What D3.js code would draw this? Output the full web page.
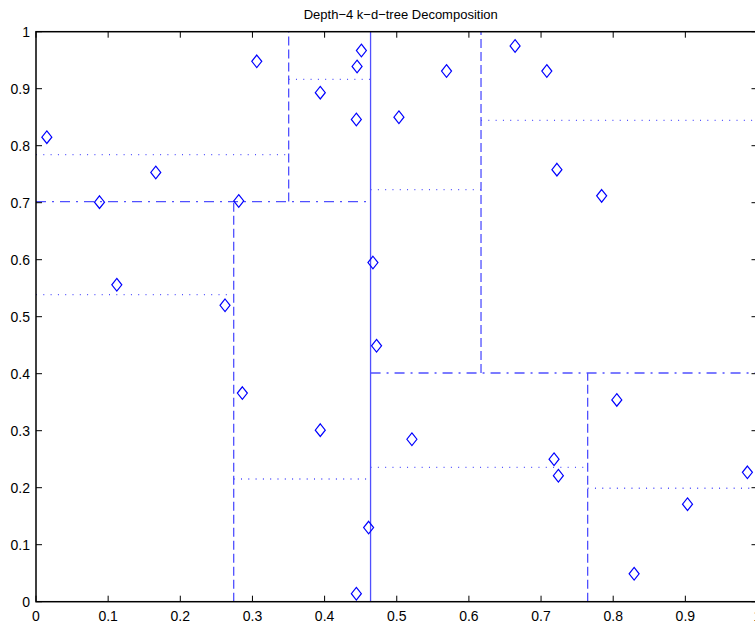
<html>
<head>
	<style>
		body { margin: 0; background: #fff; }
		svg { position: absolute; top: 0px; left: 0px; font-family: "Liberation Sans", Arial, sans-serif; }
		.axis-line { stroke: #000; stroke-width: 1.5px; fill: none; }
		.tick-mark { stroke: #000; stroke-width: 1px; }
		.tick-label { font-size: 14px; fill: #000; }
		.title { font-size: 13px; fill: #000; }
		.split { fill: none; stroke: #5050ff; stroke-width: 1.3px; }
		.pt { fill: none; stroke: #0000ff; stroke-width: 1.2px; }
	</style>
	<script src="https://cdnjs.cloudflare.com/ajax/libs/d3/7.8.5/d3.min.js"></script>
</head>
<body>
	<svg width="755" height="623"></svg>
</body>
<script>
// points
var pointsX = [0.015, 0.088, 0.112, 0.166, 0.262, 0.281, 0.286, 0.306, 0.394, 0.394,
	0.444, 0.445, 0.451, 0.444, 0.461, 0.467, 0.472, 0.503, 0.521, 0.569,
	0.664, 0.708, 0.722, 0.718, 0.724, 0.784, 0.805, 0.829, 0.903, 0.986];
var pointsY = [0.815, 0.701, 0.556, 0.753, 0.520, 0.703, 0.366, 0.948, 0.893, 0.301,
	0.846, 0.939, 0.967, 0.014, 0.130, 0.595, 0.449, 0.850, 0.285, 0.931,
	0.975, 0.931, 0.758, 0.250, 0.221, 0.712, 0.354, 0.049, 0.171, 0.227];

// kd-tree splits: orientation, split value, range start, range end, depth
var splitDir   = ["v", "h", "h", "v", "v", "v", "v", "h", "h", "h", "h", "h", "h", "h", "h"];
var splitValue = [0.4637, 0.702, 0.4012, 0.3502, 0.274, 0.6168, 0.7646,
	0.7842, 0.9165, 0.5386, 0.2153, 0.723, 0.8446, 0.2357, 0.199];
var splitFrom  = [0, 0, 0.4637, 0.702, 0, 0.4012, 0,
	0, 0.3502, 0, 0.274, 0.4637, 0.6168, 0.4637, 0.7646];
var splitTo    = [1, 0.4637, 1, 1, 0.702, 1, 0.4012,
	0.3502, 0.4637, 0.274, 0.4637, 0.6168, 1, 0.7646, 1];
var splitDepth = [1, 2, 2, 3, 3, 3, 3, 4, 4, 4, 4, 4, 4, 4, 4];

var xTicks = [0, 0.1, 0.2, 0.3, 0.4, 0.5, 0.6, 0.7, 0.8, 0.9, 1];
var yTicks = [0, 0.1, 0.2, 0.3, 0.4, 0.5, 0.6, 0.7, 0.8, 0.9, 1];
var titleText = "Depth\u22124 k\u2212d\u2212tree Decomposition";

var svg = d3.select("svg"),
	plotLeft = 36, plotTop = 31.7, plotRight = 757.5, plotBottom = 601.7;

var x = d3.scaleLinear().domain([0, 1]).range([plotLeft, plotRight]);
var y = d3.scaleLinear().domain([0, 1]).range([plotBottom, plotTop]);

var dashes = { 1: null, 2: "10,6,2,6", 3: "9,4", 4: "1,6.3" };

var splits = splitValue.map(function(v, i) {
	return { dir: splitDir[i], v: v, a: splitFrom[i], b: splitTo[i], depth: splitDepth[i] };
});

svg.append("g").selectAll("line").data(splits).enter().append("line")
	.attr("class", "split")
	.attr("x1", function(d) { return d.dir == "v" ? x(d.v) : x(d.a); })
	.attr("x2", function(d) { return d.dir == "v" ? x(d.v) : x(d.b); })
	.attr("y1", function(d) { return d.dir == "v" ? y(d.a) : y(d.v); })
	.attr("y2", function(d) { return d.dir == "v" ? y(d.b) : y(d.v); })
	.attr("stroke-dasharray", function(d) { return dashes[d.depth]; });

// diamonds
var pts = pointsX.map(function(px, i) { return [px, pointsY[i]]; });
svg.append("g").selectAll("path").data(pts).enter().append("path")
	.attr("class", "pt")
	.attr("d", function(d) {
		var cx = x(d[0]), cy = y(d[1]), w = 5, h = 6.3;
		return "M" + cx + "," + (cy - h) + "L" + (cx + w) + "," + cy + "L" + cx + "," + (cy + h) + "L" + (cx - w) + "," + cy + "Z";
	});

// box
svg.append("rect").attr("class", "axis-line")
	.attr("x", plotLeft).attr("y", plotTop).attr("width", plotRight - plotLeft).attr("height", plotBottom - plotTop);

var tl = 6;
var ticks = svg.append("g");
xTicks.forEach(function(t) {
	ticks.append("line").attr("class", "tick-mark").attr("x1", x(t)).attr("x2", x(t)).attr("y1", plotBottom).attr("y2", plotBottom - tl);
	ticks.append("line").attr("class", "tick-mark").attr("x1", x(t)).attr("x2", x(t)).attr("y1", plotTop).attr("y2", plotTop + tl);
	ticks.append("text").attr("class", "tick-label").attr("x", x(t)).attr("y", plotBottom + 19)
		.attr("text-anchor", "middle").text(d3.format("")(t));
});
yTicks.forEach(function(t) {
	ticks.append("line").attr("class", "tick-mark").attr("x1", plotLeft).attr("x2", plotLeft + tl).attr("y1", y(t)).attr("y2", y(t));
	ticks.append("line").attr("class", "tick-mark").attr("x1", plotRight).attr("x2", plotRight - tl).attr("y1", y(t)).attr("y2", y(t));
	ticks.append("text").attr("class", "tick-label").attr("x", plotLeft - 6).attr("y", y(t) + 5)
		.attr("text-anchor", "end").text(d3.format("")(t));
});

svg.append("text").attr("class", "title")
	.attr("x", (plotLeft + plotRight) / 2 + 4).attr("y", 19)
	.attr("text-anchor", "middle").text(titleText);
</script>
</html>
